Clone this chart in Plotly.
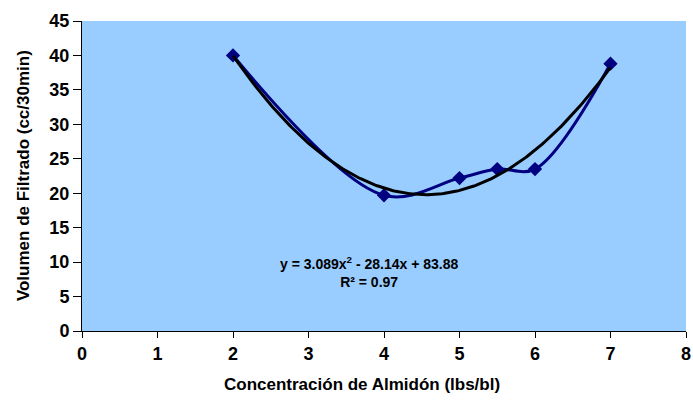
import numpy as np
import plotly.graph_objects as go

conc = [2, 4, 5, 5.5, 6, 7]
volumen = [40.0, 19.7, 22.2, 23.5, 23.5, 38.8]
coef = [3.089, -28.14, 83.88]
x_ticks = [0, 1, 2, 3, 4, 5, 6, 7, 8]
y_ticks = [0, 5, 10, 15, 20, 25, 30, 35, 40, 45]

xt = np.linspace(min(conc), max(conc), 200)
yt = np.polyval(coef, xt)

fig = go.Figure()
fig.add_trace(go.Scatter(x=conc, y=volumen, mode="lines+markers",
                         line=dict(color="#000080", width=3, shape="spline", smoothing=1),
                         marker=dict(symbol="diamond", size=11, color="#000080"),
                         showlegend=False))
fig.add_trace(go.Scatter(x=xt, y=yt, mode="lines",
                         line=dict(color="black", width=3), showlegend=False))

fam = "Liberation Sans, Arial, sans-serif"
fig.update_layout(
    width=693, height=400,
    margin=dict(l=82, r=7, t=21, b=69),
    paper_bgcolor="white", plot_bgcolor="#99CCFF",
    font=dict(family=fam, color="black", size=14),
    xaxis=dict(range=[0, 8], tickvals=x_ticks, ticktext=[f"<b>{v}</b>" for v in x_ticks],
               showgrid=False, zeroline=False, automargin=False,
               showline=True, linecolor="black", linewidth=1, ticks="outside",
               ticklen=6, tickcolor="black",
               tickfont=dict(size=18, family=fam, color="black")),
    yaxis=dict(range=[0, 45], tickvals=y_ticks, ticktext=[f"<b>{v}</b>" for v in y_ticks],
               showgrid=False, zeroline=False, automargin=False,
               showline=True, linecolor="black", linewidth=1, ticks="outside",
               ticklen=8, tickcolor="black",
               tickfont=dict(size=18, family=fam, color="black")),
)
fig.add_annotation(x=0.464, y=-0.174, xref="paper", yref="paper", showarrow=False,
                   text="<b>Concentración de Almidón (lbs/bl)</b>",
                   xanchor="center", yanchor="middle",
                   font=dict(size=17, family=fam, color="black"))
fig.add_annotation(x=-0.0975, y=0.5, xref="paper", yref="paper", showarrow=False,
                   text="<b>Volumen de Filtrado (cc/30min)</b>", textangle=-90,
                   xanchor="center", yanchor="middle",
                   font=dict(size=17, family=fam, color="black"))
fig.add_annotation(x=3.8, y=8.6, xref="x", yref="y", showarrow=False,
                   text="<b>y = 3.089x<sup>2</sup> - 28.14x + 83.88<br>R² = 0.97</b>",
                   font=dict(size=14, color="black", family=fam), align="center")
fig.write_html("out.html", config={"displayModeBar": False},
               post_script="document.body.style.margin='0';")
